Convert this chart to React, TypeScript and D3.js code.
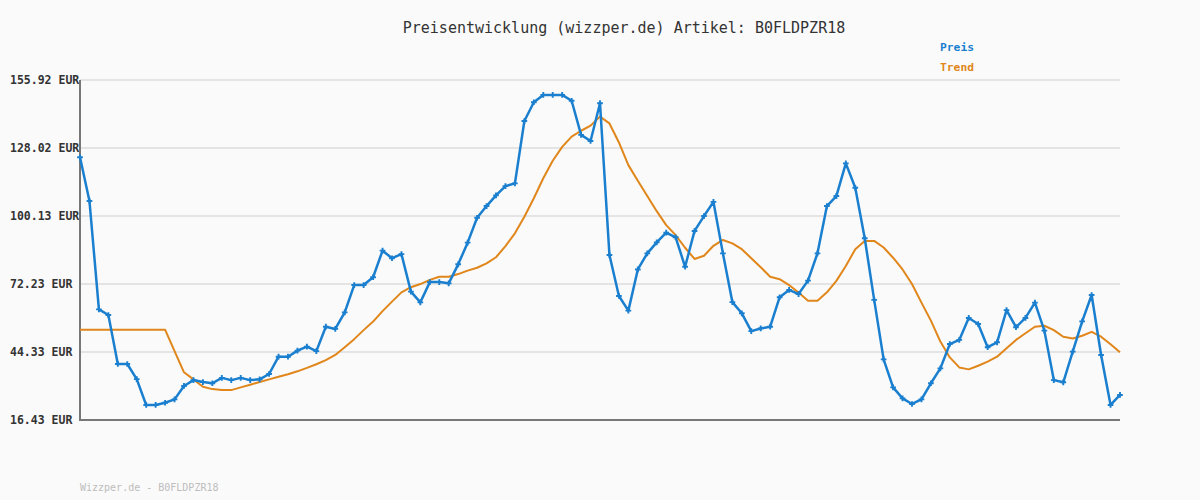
import React from "react";
import * as d3 from "d3";

const title = "Preisentwicklung (wizzper.de) Artikel: B0FLDPZR18";
const footer = "Wizzper.de - B0FLDPZR18";
const yTicks = [16.43, 44.33, 72.23, 100.13, 128.02, 155.92];
const seriesNames = ["Preis", "Trend"];

const preis = [
  124.2, 106.3, 61.8, 59.5, 39.4, 39.4, 33.2, 22.6, 22.6, 23.5,
  24.9, 30.4, 32.8, 32.0, 31.5, 33.7, 32.8, 33.7, 32.8, 33.1,
  35.3, 42.4, 42.4, 44.9, 46.5, 44.7, 54.7, 53.8, 60.6, 71.8,
  71.8, 75.0, 85.9, 82.8, 84.5, 69.1, 64.7, 73.0, 73.0, 72.5,
  80.3, 89.2, 99.4, 104.2, 108.6, 112.4, 113.5, 139.1, 146.8, 149.8,
  149.8, 149.8, 147.4, 133.4, 130.9, 146.4, 84.1, 67.3, 61.3, 78.2,
  84.8, 89.3, 93.3, 91.4, 79.3, 94.0, 100.1, 105.9, 84.8, 64.8,
  60.2, 52.9, 54.0, 54.7, 66.8, 69.8, 68.1, 73.6, 84.8, 104.2,
  108.3, 121.7, 111.7, 91.0, 65.7, 41.3, 29.8, 25.3, 23.0, 24.9,
  31.5, 37.6, 47.6, 49.3, 58.3, 55.8, 46.3, 48.3, 61.5, 54.5,
  58.3, 64.6, 53.1, 32.8, 31.9, 44.5, 56.9, 67.7, 43.1, 22.6,
  26.7,
];

const trend = [
  53.5, 53.5, 53.5, 53.5, 53.5, 53.5, 53.5, 53.5, 53.5, 53.5,
  44.7, 36.0, 33.1, 30.1, 29.1, 28.7, 28.7, 29.8, 30.9, 32.0,
  33.1, 34.2, 35.2, 36.4, 37.8, 39.3, 41.0, 43.1, 46.3, 49.6,
  53.3, 56.8, 61.1, 65.0, 68.8, 70.9, 72.2, 73.9, 75.2, 75.2,
  76.3, 77.7, 78.9, 80.7, 83.2, 87.8, 93.0, 99.8, 107.4, 115.6,
  122.8, 128.5, 132.7, 135.1, 137.2, 140.9, 138.1, 130.3, 121.0, 114.6,
  108.3, 102.1, 96.4, 92.3, 87.1, 82.5, 83.8, 87.9, 90.3, 88.9,
  86.5, 82.8, 79.1, 75.2, 74.2, 71.8, 68.7, 65.4, 65.4, 68.8,
  73.5, 79.6, 86.5, 89.9, 89.9, 87.2, 83.0, 78.2, 72.2, 64.6,
  57.2, 48.6, 42.1, 38.0, 37.2, 38.7, 40.4, 42.4, 45.9, 49.3,
  52.0, 54.7, 55.1, 53.3, 50.6, 49.9, 51.0, 52.6, 50.6, 47.5,
  44.2,
];

const W = 1200;
const H = 500;
const left = 80;
const right = 1120;
const top = 80;
const bottom = 420;
const blue = "#1a7fcf";
const orange = "#e0861a";
const mono = "'DejaVu Sans Mono', monospace";

export default function App() {
  const x = d3.scaleLinear().domain([0, preis.length - 1]).range([left, right]);
  const y = d3.scaleLinear().domain([yTicks[0], yTicks[yTicks.length - 1]]).range([bottom, top]);
  const line = d3.line<number>().x((_, i) => x(i)).y((d) => y(d));
  const marker = d3.symbol().type(d3.symbolCross).size(18)() as string;

  return (
    <svg width={W} height={H} style={{ position: "absolute", left: 0, top: 0, display: "block" }}>
      <rect x={0} y={0} width={W} height={H} fill="#fafafa" />
      <text x={624} y={33} textAnchor="middle" fontFamily={mono} fontSize={15} fill="#333">
        {title}
      </text>
      <text x={940} y={51} fontFamily={mono} fontSize={11.3} fontWeight="bold" fill={blue}>
        {seriesNames[0]}
      </text>
      <text x={940} y={71} fontFamily={mono} fontSize={11.3} fontWeight="bold" fill={orange}>
        {seriesNames[1]}
      </text>
      {yTicks.map((t) => (
        <g key={t}>
          {t !== yTicks[0] && (
            <line x1={left} x2={right} y1={y(t)} y2={y(t)} stroke="#e4e4e4" strokeWidth={2} />
          )}
          <text x={10} y={y(t) + 4} textAnchor="start" fontFamily={mono} fontSize={11.5} fontWeight="bold" fill="#333">
            {t.toFixed(2) + " EUR"}
          </text>
        </g>
      ))}
      <line x1={left} x2={right} y1={bottom} y2={bottom} stroke="#777" strokeWidth={2} />
      <line x1={left} x2={left} y1={top} y2={bottom + 1} stroke="#777" strokeWidth={2} />
      <path d={line(trend) || ""} fill="none" stroke={orange} strokeWidth={2} strokeLinejoin="round" />
      <path d={line(preis) || ""} fill="none" stroke={blue} strokeWidth={2.5} strokeLinejoin="round" />
      {preis.map((v, i) => (
        <path key={i} d={marker} transform={`translate(${x(i)},${y(v)})`} fill={blue} />
      ))}
      <text x={80} y={491} fontFamily={mono} fontSize={10} fill="#bdbdbd">
        {footer}
      </text>
    </svg>
  );
}
